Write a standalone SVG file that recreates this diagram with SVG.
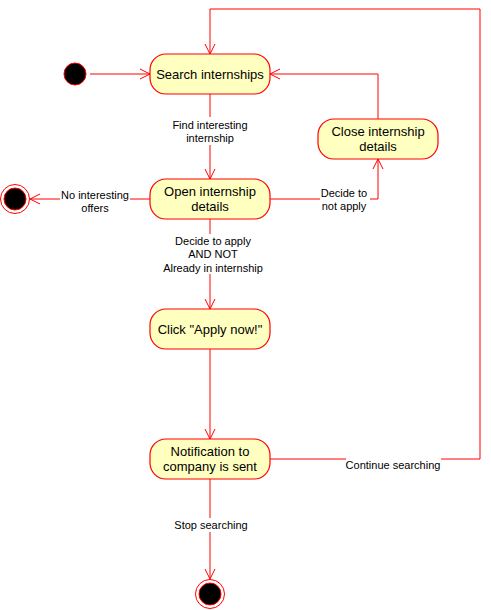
<svg xmlns="http://www.w3.org/2000/svg" width="491" height="610" viewBox="0 0 491 610">
<style>
.node{fill:#FFFFC0;stroke:#FF0000;stroke-width:1.2}
.ntext{font-family:"Liberation Sans",Arial,sans-serif;font-size:13px;fill:#000;text-anchor:middle}
.ltext{font-family:"Liberation Sans",Arial,sans-serif;font-size:11px;fill:#000;text-anchor:middle}
.edge{fill:none;stroke:#FF0000;stroke-width:1}
.lbg{fill:#FFFFFF}
</style>
<defs>
<marker id="arr" viewBox="0 0 12 12" refX="11" refY="6" markerWidth="12" markerHeight="12" markerUnits="userSpaceOnUse" orient="auto">
<path d="M1,1 L11,6 L1,11" fill="none" stroke="#FF0000" stroke-width="1"/>
</marker>
</defs>
<rect width="491" height="610" fill="#FFFFFF"/>
<g id="connectors">
<line class="edge" x1="90" y1="74" x2="150" y2="74" marker-end="url(#arr)"/>
<line class="edge" x1="210" y1="94" x2="210" y2="179" marker-end="url(#arr)"/>
<line class="edge" x1="150" y1="199" x2="30" y2="199" marker-end="url(#arr)"/>
<polyline class="edge" points="270,199 378,199 378,159" marker-end="url(#arr)"/>
<polyline class="edge" points="378,119 378,74 270,74" marker-end="url(#arr)"/>
<line class="edge" x1="210" y1="219" x2="210" y2="309" marker-end="url(#arr)"/>
<line class="edge" x1="210" y1="349" x2="210" y2="439" marker-end="url(#arr)"/>
<polyline class="edge" points="270,459 480,459 480,9 210,9 210,54" marker-end="url(#arr)"/>
<line class="edge" x1="210" y1="479" x2="210" y2="579" marker-end="url(#arr)"/>
<g id="labels">
<rect class="lbg" x="170" y="117" width="80" height="28"/>
<text class="ltext" x="210" y="129">Find interesting</text>
<text class="ltext" x="210" y="142">internship</text>
<rect class="lbg" x="60" y="187" width="70" height="28"/>
<text class="ltext" x="95" y="199">No interesting</text>
<text class="ltext" x="95" y="212">offers</text>
<rect class="lbg" x="320" y="186" width="50" height="28"/>
<text class="ltext" x="344" y="197">Decide to</text>
<text class="ltext" x="344" y="210">not apply</text>
<rect class="lbg" x="163" y="234" width="104" height="40"/>
<text class="ltext" x="213" y="245">Decide to apply</text>
<text class="ltext" x="213" y="258">AND NOT</text>
<text class="ltext" x="213" y="272">Already in internship</text>
<rect class="lbg" x="346" y="458" width="95" height="14"/>
<text class="ltext" x="393" y="469">Continue searching</text>
<rect class="lbg" x="174" y="518" width="74" height="14"/>
<text class="ltext" x="211" y="529">Stop searching</text>
</g>
</g>
<g id="start">
<circle cx="75" cy="74" r="11" fill="#000" stroke="#FF0000" stroke-width="1"/>
</g>
<g id="search">
<rect class="node" x="150" y="54" width="120" height="40" rx="16" ry="16"/>
<text class="ntext" x="210" y="79">Search internships</text>
</g>
<g id="open">
<rect class="node" x="150" y="179" width="120" height="40" rx="16" ry="16"/>
<text class="ntext" x="210" y="196">Open internship</text>
<text class="ntext" x="210" y="211">details</text>
</g>
<g id="close">
<rect class="node" x="318" y="119" width="120" height="40" rx="16" ry="16"/>
<text class="ntext" x="378" y="136">Close internship</text>
<text class="ntext" x="378" y="151">details</text>
</g>
<g id="apply">
<rect class="node" x="150" y="309" width="120" height="40" rx="16" ry="16"/>
<text class="ntext" x="210" y="334">Click "Apply now!"</text>
</g>
<g id="notify">
<rect class="node" x="150" y="439" width="120" height="40" rx="16" ry="16"/>
<text class="ntext" x="210" y="456">Notification to</text>
<text class="ntext" x="210" y="471">company is sent</text>
</g>
<g id="end-left">
<circle cx="15" cy="199" r="14.5" fill="#FFFFFF" stroke="#FF0000" stroke-width="1"/>
<circle cx="15" cy="199" r="11" fill="#000" stroke="#FF0000" stroke-width="1"/>
</g>
<g id="end-bottom">
<circle cx="210" cy="594" r="14.5" fill="#FFFFFF" stroke="#FF0000" stroke-width="1"/>
<circle cx="210" cy="594" r="11" fill="#000" stroke="#FF0000" stroke-width="1"/>
</g>
</svg>
